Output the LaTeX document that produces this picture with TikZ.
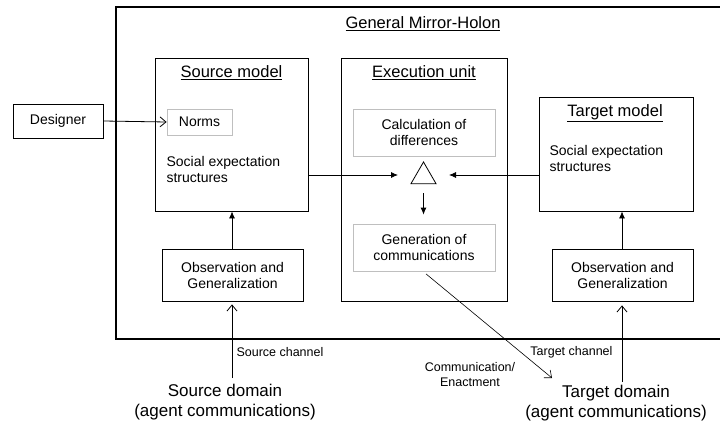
\documentclass[tikz,border=0pt]{standalone}
\usepackage{fontspec}
\setmainfont{Liberation Sans}
\usetikzlibrary{arrows.meta,shapes.geometric}
\begin{document}
\begin{tikzpicture}[x=1pt,y=-1pt,
  box/.style={draw=black,line width=0.8pt,rectangle,inner sep=0pt},
  graybox/.style={draw=black!25,line width=0.8pt,rectangle,inner sep=0pt},
  body/.style={font=\fontsize{14}{16}\selectfont},
  ttl/.style={font=\fontsize{16.5}{19}\selectfont},
  small/.style={font=\fontsize{12.5}{15}\selectfont},
  dom/.style={font=\fontsize{17}{19.5}\selectfont},
  fa/.style={-{Latex[length=7pt,width=6pt]},line width=0.8pt},
  oa/.style={-{Straight Barb[length=6pt,width=10pt]},line width=0.8pt}]
\useasboundingbox (0,0) rectangle (720,423);
% outer holon frame (right side beyond picture)
\draw[line width=1.5pt] (721,7) -- (116,7) -- (116,339) -- (721,339);
\node[ttl] (holt) at (423,24) {\underline{General Mirror-Holon}};
% boxes
\node[box,body,minimum width=90pt,minimum height=34pt] (des) at (58,121) {Designer};
\node[box,minimum width=153pt,minimum height=153pt] (src) at (231.5,134.5) {};
\node[ttl] (srct) at (231.5,73) {\underline{Source model}};
\node[graybox,body,minimum width=65pt,minimum height=26pt] (norms) at (199.5,122) {Norms};
\node[body,anchor=west,align=left] (srcses) at (163,169) {Social expectation\\structures};
\node[box,minimum width=166pt,minimum height=243pt] (exe) at (424,179.5) {};
\node[ttl] (exet) at (424,73) {\underline{Execution unit}};
\node[graybox,body,align=center,minimum width=142pt,minimum height=47pt] (calc) at (424,132.5) {Calculation of\\differences};
\node[graybox,body,align=center,minimum width=142pt,minimum height=47pt] (gen) at (424,247.5) {Generation of\\communications};
\node[draw,line width=0.8pt,regular polygon,regular polygon sides=3,minimum size=29pt,inner sep=0pt] (tri) at (423.5,176.5) {};
\node[box,minimum width=154pt,minimum height=114pt] (tgt) at (616,154) {};
\node[ttl] (tgtt) at (615,113) {\underline{Target model}};
\node[body,anchor=west,align=left] (tgtses) at (546,158) {Social expectation\\structures};
\node[box,body,align=center,minimum width=141pt,minimum height=52pt] (obss) at (232.5,275) {Observation and\\Generalization};
\node[box,body,align=center,minimum width=141pt,minimum height=52pt] (obst) at (622.5,275) {Observation and\\Generalization};
% domains
\node[dom,align=center] (sdom) at (225,402) {Source domain\\(agent communications)};
\node[dom,align=center] (tdom) at (616,403) {Target domain\\(agent communications)};
\node[small,anchor=west] (schl) at (233,352) {Source channel};
\node[small,anchor=east] (tchl) at (616,352) {Target channel};
\node[small,align=center] (comml) at (470,375) {Communication/\\Enactment};
% coordinates
\coordinate (tril) at (398,175);
\coordinate (trir) at (449,175);
\coordinate (schs) at (232,378);
\coordinate (tchs) at (622,382);
\coordinate (comme) at (552,378);
% connectors
\draw[oa] (des.east) -- (norms.west);
\draw[fa] (src.east |- tril) -- (tril);
\draw[fa] (tgt.west |- trir) -- (trir);
\draw[fa,shorten <=9pt,shorten >=9pt] (tri.south) -- (tri.south |- gen.north);
\draw[fa] (obss.north -| 232,0) -- (src.south -| 232,0);
\draw[fa] (obst.north -| 622,0) -- (tgt.south -| 622,0);
\draw[oa,shorten >=3pt] (schs) -- (schs |- obss.south);
\draw[oa,shorten >=4pt] (tchs) -- (tchs |- obst.south);
\draw[oa,line width=0.6pt,shorten <=4pt] (gen.south -| 423,0) -- (comme);
\end{tikzpicture}
\end{document}
